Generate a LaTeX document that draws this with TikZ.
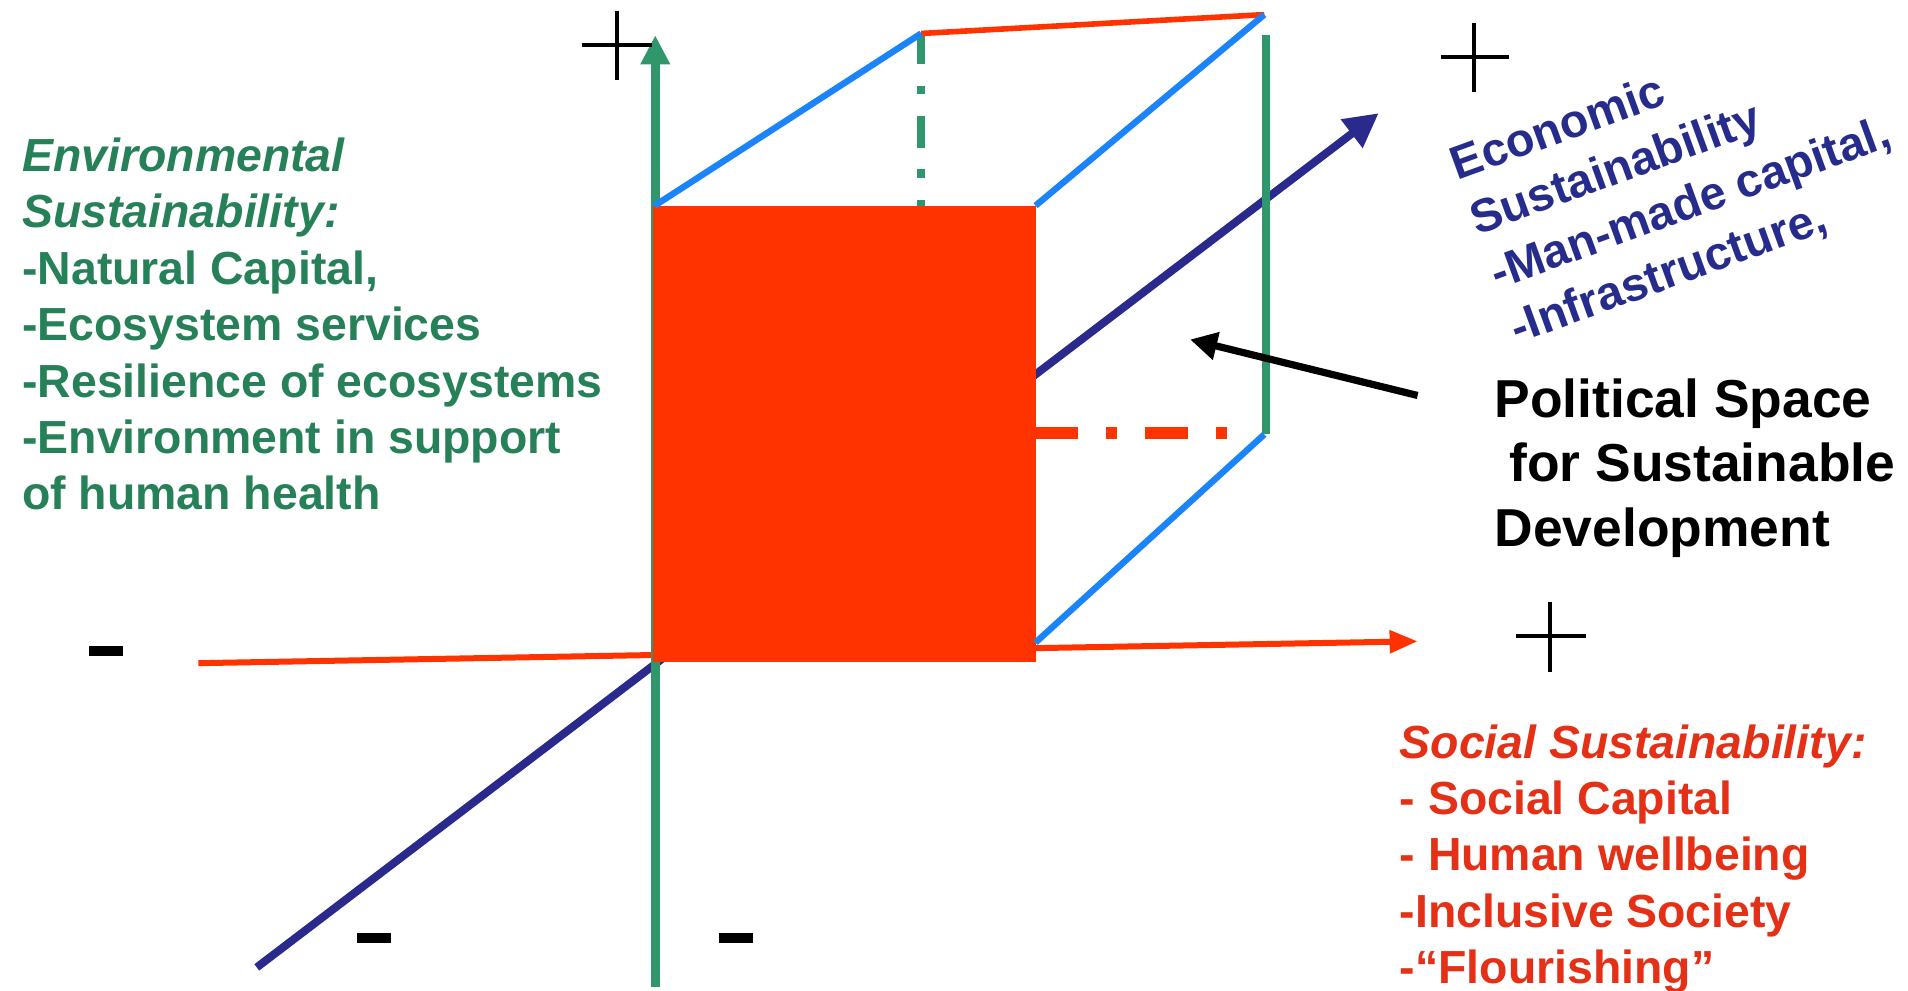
\documentclass[tikz,border=0pt]{standalone}
\usepackage{fontspec}
\setmainfont{Liberation Sans}
\usetikzlibrary{arrows.meta}
\definecolor{envtext}{RGB}{38,128,88}
\definecolor{envline}{RGB}{48,150,108}
\definecolor{navyline}{RGB}{42,42,140}
\definecolor{navytext}{RGB}{38,44,140}
\definecolor{sqred}{RGB}{255,51,0}
\definecolor{soctext}{RGB}{228,48,22}
\definecolor{edgeblue}{RGB}{28,132,250}
\begin{document}
\begin{tikzpicture}[x=0.6084pt,y=-0.6084pt,
  greenaxis/.style={envline,line width=4.4pt,-{Triangle[length=14.6pt,width=14pt]}},
  redaxis/.style={sqred,line width=3pt,-{Triangle[length=14pt,width=11pt]}},
  navyaxis/.style={navyline,line width=4pt,-{Triangle[length=17pt,width=17pt]}},
  cubeedge/.style={edgeblue,line width=3.2pt},
  backred/.style={sqred,line width=2.8pt},
  backgreen/.style={envline,line width=4pt},
  greendashdot/.style={envline,line width=4pt,dash pattern=on 15.8pt off 11pt on 4.3pt off 10.6pt,dash phase=12.8pt},
  reddashdot/.style={sqred,line width=6pt,dash pattern=on 21.3pt off 14pt on 5.5pt off 14pt},
  pointer/.style={black,line width=3.6pt,-{Triangle[length=13.5pt,width=13.5pt]}},
  plusbar/.style={black,line width=2pt},
  minussign/.style={fill=black,draw=none,minimum width=17pt,minimum height=4.9pt,inner sep=0pt},
  bigtext/.style={font=\fontsize{23.2}{28.2}\selectfont\bfseries,align=left,anchor=north west,inner sep=0pt}
]
\useasboundingbox (0,0) rectangle (1568,814);
% coordinates
\coordinate (gbot) at (538.5,811);
\coordinate (gtop) at (538.5,29);
\coordinate (rl) at (163,545);
\coordinate (rr) at (1165,527);
\coordinate (nl) at (211,795);
\coordinate (nr) at (1133,93);
\coordinate (ftl) at (538,169);
\coordinate (ftr) at (851,169);
\coordinate (fbr) at (851,528);
\coordinate (btl) at (757,27.5);
\coordinate (btr) at (1039,12);
\coordinate (bbr) at (1039,357);
\coordinate (gvt) at (1040,29);
\coordinate (gvb) at (1040,357);
\coordinate (dgb) at (757,169);
\coordinate (drl) at (851,356);
\coordinate (drr) at (1010,356);
\coordinate (ptail) at (1165,325);
\coordinate (ptip) at (978,279);
% axes
\draw[redaxis] (rl) -- (rr);
\draw[navyaxis] (nl) -- (nr);
\draw[greenaxis] (gbot) -- (gtop);
% back of cube
\draw[backgreen] (gvt) -- (gvb);
\draw[greendashdot] (dgb) -- (btl);
\draw[reddashdot] (drl) -- (drr);
% front face
\fill[sqred] (537,169) rectangle (851,544);
% cube edges
\draw[backred] (btl) -- (btr);
\draw[cubeedge] (ftl) -- (btl);
\draw[cubeedge] (ftr) -- (btr);
\draw[cubeedge] (fbr) -- (bbr);
% pointer arrow
\draw[pointer] (ptail) -- (ptip);
% plus signs
\draw[plusbar] (478,37) -- (536,37);
\draw[plusbar] (507,9) -- (507,66);
\draw[plusbar] (1184,47) -- (1240,47);
\draw[plusbar] (1211,19) -- (1211,76);
\draw[plusbar] (1246,523) -- (1303,523);
\draw[plusbar] (1274,495) -- (1274,552);
% minus signs
\node[minussign] (m1) at (87,535) {};
\node[minussign] (m2) at (307,771) {};
\node[minussign] (m3) at (605,771) {};
% texts
\node[bigtext,text=envtext] (env) at (18,113) {\textit{Environmental}\\\textit{Sustainability:}\\-Natural Capital,\\-Ecosystem services\\-Resilience of ecosystems\\-Environment in support\\of human health};
\node[bigtext,font=\fontsize{26.7}{32.2}\selectfont\bfseries] (pol) at (1228,311) {Political Space\\\hspace*{0.278em}for Sustainable\\Development};
\node[bigtext,text=soctext] (soc) at (1150,595) {\textit{Social Sustainability:}\\- Social Capital\\- Human wellbeing\\-Inclusive Society\\-“Flourishing”};
\node[bigtext,text=navytext,font=\fontsize{23.4}{29}\selectfont\bfseries,rotate=20] (eco) at (1188,122) {Economic\\Sustainability\\-Man-made capital,\\-Infrastructure,};
\end{tikzpicture}
\end{document}
